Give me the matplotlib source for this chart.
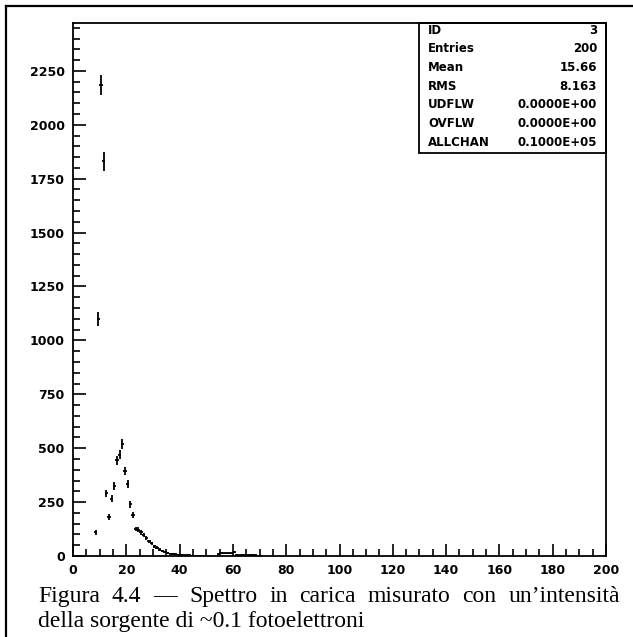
import matplotlib
matplotlib.use('Agg')

import numpy              as np
import matplotlib.pyplot  as plt
from matplotlib.ticker    import MultipleLocator

# ===== Data: channel (lower edge of 1-unit bin) and counts
chan   = [  8,   9,   10,   11,  12,  13,  14,  15,  16,  17,  18,  19,  20,  21,  22,
           23,  24,  25,  26,  27,  28,  29,  30,  31,  32,  33,  34,  35,  36,  37,
           38,  39,  40,  41,  42,  43,  44,  45,  46,  47,  48,  50,
           54,  55,  56,  57,  58,  59,  60,  61,  62,  63,  64,  65,  66,  67,  68,  70]
counts = [110, 1100, 2185, 1830, 290, 180, 265, 325, 445, 470, 520, 395, 335, 240, 190,
          125, 122, 110,  98,  85,  68,  58,  45,  38,  30,  24,  18,  14,  11,   9,
            7,   6,   5,   4,   3,   3,   2,   2,   1,   1,   1,   1,
            8,  12,  12,  12,  12,  12,  18,   6,   4,   5,   6,   4,   6,   5,   3,   2]

stat_names  = ['ID', 'Entries', 'Mean', 'RMS', 'UDFLW', 'OVFLW', 'ALLCHAN']
stat_values = ['3', '200', '15.66', '8.163', '0.0000E+00', '0.0000E+00', '0.1000E+05']

caption1 = ['Figura', '4.4', '\u2014', 'Spettro', 'in', 'carica', 'misurato', 'con',
            'un\u2019intensit\u00e0']
caption2 = 'della sorgente di ~0.1 fotoelettroni'

W, H = 633, 637
fig = plt.figure(figsize=(W/100, H/100), dpi=100)

# ===== Outer frame (top and left only)
fig.add_artist(plt.Line2D([6/W, 1], [1-6/H, 1-6/H], color='black', lw=1.6))
fig.add_artist(plt.Line2D([6/W, 6/W], [0, 1-6/H], color='black', lw=1.6))

# ===== Histogram axes
ax = fig.add_axes([73/W, 1-556/H, (606-73)/W, (556-23)/H])
x   = np.array(chan) + 0.5
y   = np.array(counts, dtype=float)
ax.errorbar(x, y, yerr=np.sqrt(y), xerr=0.6, fmt='none', ecolor='black', elinewidth=1.3)

ax.set_xlim(0, 200)
ax.set_ylim(0, 2472)
ax.xaxis.set_major_locator(MultipleLocator(20))
ax.xaxis.set_minor_locator(MultipleLocator(5))
ax.yaxis.set_major_locator(MultipleLocator(250))
ax.yaxis.set_minor_locator(MultipleLocator(50))
ax.tick_params(which='both', direction='in', top=False, right=False, width=1.2,
               labelsize=9, colors='black')
ax.tick_params(which='major', length=9, pad=6)
ax.tick_params(which='minor', length=5)
for s in ax.spines.values():
   s.set_linewidth(1.3)
for t in ax.get_xticklabels() + ax.get_yticklabels():
   t.set_fontweight('semibold')

# ===== Statistics box
bx0, bx1 = 419, 606
by0, by1 = 23, 153
fig.add_artist(plt.Rectangle((bx0/W, 1-by1/H), (bx1-bx0)/W, (by1-by0)/H,
                             fill=False, edgecolor='black', lw=1.3))
for i, (n, v) in enumerate(zip(stat_names, stat_values)):
   yy = 1 - (30 + i*18.7)/H
   fig.text(428/W, yy, n, fontsize=8.5, ha='left', va='center', fontweight='semibold')
   fig.text(597/W, yy, v, fontsize=8.5, ha='right', va='center', fontweight='semibold')

# ===== Caption: first line justified between x=38 and x=620 px
x_left, x_right = 38, 620
rend  = fig.canvas.get_renderer()
words = [fig.text(0, 1-602/H, w, fontsize=17, family='Liberation Serif',
                  ha='left', va='baseline') for w in caption1]
widths = [t.get_window_extent(rend).width for t in words]
gap    = (x_right - x_left - sum(widths)) / (len(words)-1)
xx     = x_left
for t, wd in zip(words, widths):
   t.set_x(xx/W)
   xx += wd + gap
fig.text(x_left/W, 1-627/H, caption2, fontsize=17, family='Liberation Serif', ha='left', va='baseline')

plt.savefig('out.png', dpi=100)
plt.close()
